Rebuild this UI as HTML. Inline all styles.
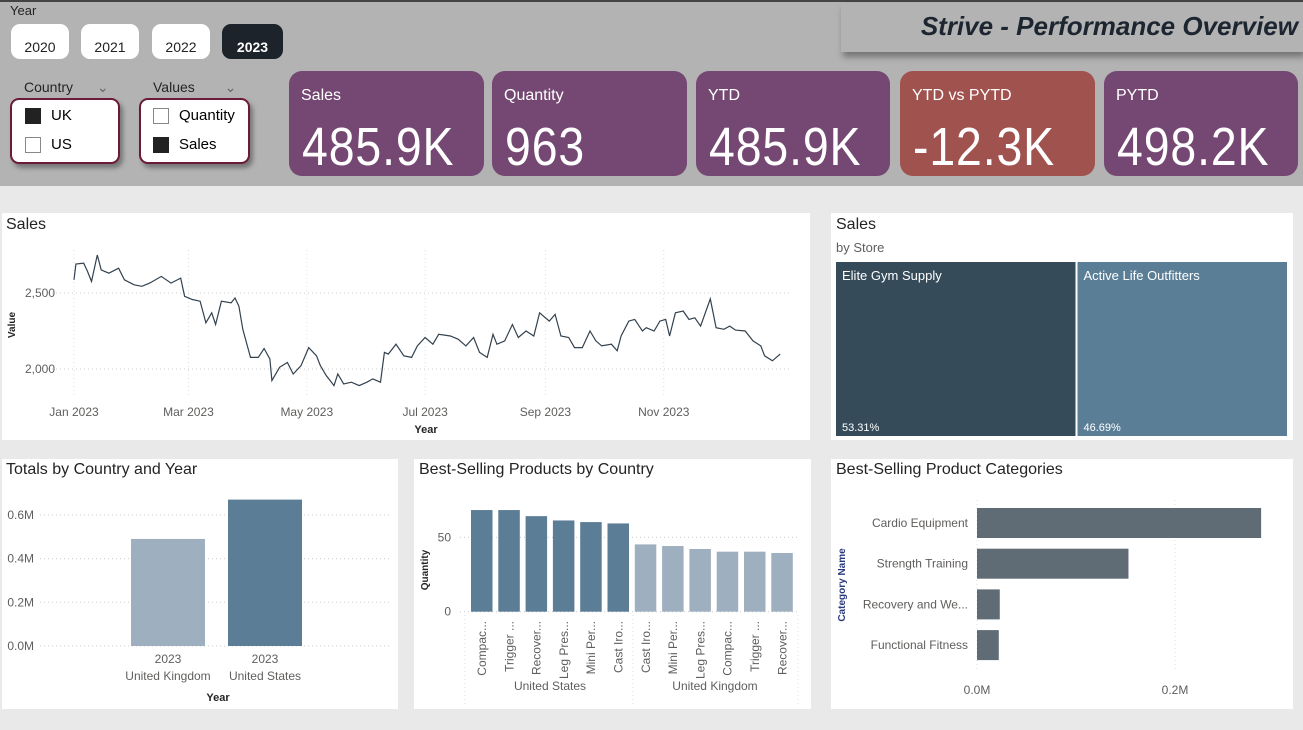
<!DOCTYPE html>
<html><head><meta charset="utf-8">
<style>
body{margin:0;width:1303px;height:730px;overflow:hidden;background:#e9e9e9;font-family:"Liberation Sans",sans-serif;position:relative}
.abs{position:absolute}
.hdr{left:0;top:0;width:1303px;height:186px;background:#b3b3b3;border-top:2px solid #444;box-sizing:border-box}
.yb{top:24px;width:58px;height:35px;background:#fff;border-radius:9px;font-size:14px;text-align:center;line-height:46px;color:#222}
.slicer{background:#fff;border:2px solid #6b1a3a;border-radius:9px;box-shadow:3px 4px 5px rgba(0,0,0,.35)}
.card{top:71px;height:105px;background:#744872;border-radius:13px;color:#fff;overflow:hidden}
.card .t{position:absolute;left:12px;top:16px;font-size:16px}
.card .v{position:absolute;left:13px;top:46px;font-size:54px;line-height:60px;transform:scaleX(.86);transform-origin:left;letter-spacing:1px}
.panel{background:#fff}
.ptitle{font-size:16px;color:#252423}
.chk{display:inline-block;width:14px;height:14px;border:1px solid #888;vertical-align:middle;margin-right:10px}
</style></head><body>
<div class="abs hdr"></div>
<div class="abs" style="left:10px;top:3px;font-size:13px;color:#252423">Year</div>
<div class="abs yb" style="left:11px">2020</div>
<div class="abs yb" style="left:81px">2021</div>
<div class="abs yb" style="left:152px">2022</div>
<div class="abs yb" style="left:222px;width:61px;background:#1c232b;color:#fff;font-weight:bold">2023</div>
<div class="abs" style="left:841px;top:3px;width:462px;height:49px;background:#b3b3b3;box-shadow:2px 5px 6px rgba(0,0,0,.35)">
<div style="position:absolute;right:5px;top:8px;font-size:26px;font-weight:bold;font-style:italic;color:#1c2530">Strive - Performance Overview</div></div>

<div class="abs" style="left:24px;top:79px;font-size:14px;color:#252423">Country <span style="margin-left:20px;color:#666">&#8964;</span></div>
<div class="abs slicer" style="left:10px;top:98px;width:106px;height:62px">
<div style="position:absolute;left:13px;top:7px;font-size:15px"><span class="chk" style="background:#222;border-color:#222"></span>UK</div>
<div style="position:absolute;left:13px;top:36px;font-size:15px"><span class="chk"></span>US</div></div>
<div class="abs" style="left:153px;top:79px;font-size:14px;color:#252423">Values <span style="margin-left:26px;color:#666">&#8964;</span></div>
<div class="abs slicer" style="left:139px;top:98px;width:107px;height:62px">
<div style="position:absolute;left:12px;top:7px;font-size:15px"><span class="chk"></span>Quantity</div>
<div style="position:absolute;left:12px;top:36px;font-size:15px"><span class="chk" style="background:#222;border-color:#222"></span>Sales</div></div>

<div class="abs card" style="left:289px;width:195px"><div class="t">Sales</div><div class="v">485.9K</div></div>
<div class="abs card" style="left:492px;width:195px"><div class="t">Quantity</div><div class="v">963</div></div>
<div class="abs card" style="left:696px;width:194px"><div class="t">YTD</div><div class="v">485.9K</div></div>
<div class="abs card" style="left:900px;width:195px;background:#a0524f"><div class="t">YTD vs PYTD</div><div class="v">-12.3K</div></div>
<div class="abs card" style="left:1104px;width:194px"><div class="t">PYTD</div><div class="v">498.2K</div></div>

<div class="abs panel" style="left:2px;top:213px;width:808px;height:227px"><div class="ptitle" style="position:absolute;left:4px;top:3px">Sales</div></div>
<div class="abs panel" style="left:831px;top:213px;width:462px;height:227px"><div class="ptitle" style="position:absolute;left:5px;top:3px">Sales</div><div style="position:absolute;left:5px;top:27px;font-size:13px;color:#605e5c">by Store</div></div>
<div class="abs panel" style="left:2px;top:459px;width:396px;height:250px"><div class="ptitle" style="position:absolute;left:4px;top:2px">Totals by Country and Year</div></div>
<div class="abs panel" style="left:414px;top:459px;width:397px;height:250px"><div class="ptitle" style="position:absolute;left:5px;top:2px">Best-Selling Products by Country</div></div>
<div class="abs panel" style="left:831px;top:459px;width:462px;height:250px"><div class="ptitle" style="position:absolute;left:5px;top:2px">Best-Selling Product Categories</div></div>

<svg class="abs" style="left:0;top:0" width="1303" height="730" id="chart" font-family="Liberation Sans, sans-serif"></svg>
<script>
// Sales line data (day of year, value)
const lineDays=[0,1,5,7,9,12,14,18,23,26,31,35,39,45,50,55,57,61,65,68,71,73,76,81,83,85,87,91,95,98,101,102,106,110,113,117,121,125,127,130,134,136,139,143,147,151,154,158,160,162,166,170,174,177,181,185,188,194,198,202,206,209,213,216,218,222,226,229,233,237,240,245,248,251,255,258,262,266,269,272,277,280,282,286,289,293,295,299,302,305,307,310,314,317,320,323,328,331,335,338,341,346,350,354,356,360,364];
const lineValues=[2587,2691,2696,2641,2576,2750,2652,2630,2663,2587,2554,2544,2565,2609,2565,2598,2478,2457,2446,2304,2370,2293,2446,2435,2467,2413,2261,2076,2076,2135,2065,1924,2011,2043,1967,2022,2141,2087,2022,1957,1891,1967,1902,1913,1891,1913,1935,1913,2109,2098,2163,2087,2076,2152,2207,2163,2228,2217,2196,2152,2207,2109,2076,2228,2163,2185,2293,2207,2250,2217,2370,2315,2359,2217,2207,2141,2141,2250,2185,2152,2163,2120,2217,2315,2326,2250,2272,2250,2315,2326,2217,2370,2381,2326,2337,2282,2461,2272,2261,2282,2256,2250,2185,2152,2087,2054,2098];
const lineYTicks=[2000,2500];
const monthLabels=["Jan 2023","Mar 2023","May 2023","Jul 2023","Sep 2023","Nov 2023"];
const monthDays=[0,59,120,181,243,304];
// Store treemap
const stores=["Elite Gym Supply","Active Life Outfitters"];
const storeShares=[53.31,46.69];
// Totals
const countries=["United Kingdom","United States"];
const totals=[0.49,0.67];
const totalTicks=[0,0.2,0.4,0.6];
const totalTickLabels=["0.0M","0.2M","0.4M","0.6M"];
// Products
const productNames=["Compac...","Trigger ...","Recover...","Leg Pres...","Mini Per...","Cast Iro...","Cast Iro...","Mini Per...","Leg Pres...","Compac...","Trigger ...","Recover..."];
const productCountry=["US","US","US","US","US","US","UK","UK","UK","UK","UK","UK"];
const productQty=[68.4,68.4,64.3,61.4,60.3,59.4,45.3,44.2,42.2,40.4,40.4,39.5];
const qtyTicks=[0,50];
// Categories
const categories=["Cardio Equipment","Strength Training","Recovery and We...","Functional Fitness"];
const categorySales=[0.287,0.153,0.023,0.022];
const catTicks=[0,0.2];
const catTickLabels=["0.0M","0.2M"];

const svg=document.getElementById('chart');
const NS='http://www.w3.org/2000/svg';
function mk(tag,at,parent){const e=document.createElementNS(NS,tag);for(const k in at)e.setAttribute(k,at[k]);(parent||svg).appendChild(e);return e;}
function txt(s,at){const e=mk('text',at);e.textContent=s;return e;}

// ---- line chart
const lx=d=>74+d*1.94, ly=v=>369-(v-2000)*76/500;
lineYTicks.forEach(t=>{
 const g=mk('line',{x1:48,x2:790,y1:ly(t),y2:ly(t),stroke:'#ccc','stroke-dasharray':'1,3'});
 
 const l=txt(t.toLocaleString('en-US'),{x:55,y:ly(t)+4,'text-anchor':'end','font-size':12,fill:'#605e5c'});
 
});
monthDays.forEach((d,i)=>{
 const g=mk('line',{x1:lx(d),x2:lx(d),y1:250,y2:398,stroke:'#ddd','stroke-dasharray':'1,3'});
 
 const l=txt(monthLabels[i],{x:lx(d),y:416,'text-anchor':'middle','font-size':12,fill:'#605e5c'});
 
});
let pd=lineDays.map((d,i)=>(i?'L':'M')+lx(d).toFixed(1)+','+ly(lineValues[i]).toFixed(1)).join('');
const path=mk('path',{d:pd,fill:'none',stroke:'#33414e','stroke-width':1.2});

let t=txt('Value',{transform:'translate(15,325) rotate(-90)','text-anchor':'middle','font-size':10,'font-weight':'bold',fill:'#252423'});

t=txt('Year',{x:426,y:433,'text-anchor':'middle','font-size':11,'font-weight':'bold',fill:'#252423'});


// ---- treemap
const tmX=836,tmW=453,tmY=262,tmH=174,tmColors=['#364b5a','#5b7e97'];
let cx=tmX;const tot=storeShares.reduce((a,b)=>a+b,0);
storeShares.forEach((s,i)=>{
 const w=tmW*s/tot;
 const r=mk('rect',{x:cx,y:tmY,width:w-2,height:tmH,fill:tmColors[i]});
 
 const n=txt(stores[i],{x:cx+6,y:tmY+18,'font-size':13,fill:'#fff'});
 
 const p=txt(s.toFixed(2)+'%',{x:cx+6,y:tmY+169,'font-size':11,fill:'#fff'});
 
 cx+=w;
});

// ---- totals bar chart
const ty=v=>646-v*218.5;
totalTicks.forEach((v,i)=>{
 const g=mk('line',{x1:40,x2:390,y1:ty(v),y2:ty(v),stroke:'#ccc','stroke-dasharray':'1,3'});
 
 const l=txt(totalTickLabels[i],{x:34,y:ty(v)+4,'text-anchor':'end','font-size':12,fill:'#605e5c'});
 
});
const totColors=['#9eb0bf','#5b7d96'];
totals.forEach((v,i)=>{
 const x=131+i*97;
 const b=mk('rect',{x:x,y:ty(v),width:74,height:646-ty(v),fill:totColors[i]});
 
 const a=txt('2023',{x:x+37,y:663,'text-anchor':'middle','font-size':12,fill:'#605e5c'});
 
 const c=txt(countries[i],{x:x+37,y:680,'text-anchor':'middle','font-size':12,fill:'#605e5c'});
 
});
t=txt('Year',{x:218,y:701,'text-anchor':'middle','font-size':11,'font-weight':'bold',fill:'#252423'});


// ---- products bar chart
const py=v=>611.7-v*74.3/50;
qtyTicks.forEach(v=>{
 const g=mk('line',{x1:460,x2:798,y1:py(v),y2:py(v),stroke:'#ccc','stroke-dasharray':'1,3'});
 
 const l=txt(String(v),{x:451,y:py(v)+4,'text-anchor':'end','font-size':12,fill:'#605e5c'});
 
});
productQty.forEach((v,i)=>{
 const x=471+i*27.3;
 const b=mk('rect',{x:x,y:py(v),width:21.5,height:611.7-py(v),fill:productCountry[i]==='US'?'#5b7d96':'#9eb0bf'});
 
 const l=txt(productNames[i],{transform:`translate(${x+15},621) rotate(-90)`,'text-anchor':'end','font-size':12,fill:'#605e5c'});
 
});
[465,633,798].forEach(x=>{
 const g=mk('line',{x1:x,x2:x,y1:615,y2:705,stroke:'#ddd','stroke-dasharray':'1,3'});
 
});
t=txt('United States',{x:550,y:690,'text-anchor':'middle','font-size':12,fill:'#605e5c'});

t=txt('United Kingdom',{x:715,y:690,'text-anchor':'middle','font-size':12,fill:'#605e5c'});

t=txt('Quantity',{transform:'translate(428,570) rotate(-90)','text-anchor':'middle','font-size':10,'font-weight':'bold',fill:'#252423'});


// ---- categories bar chart
const cxs=v=>977+v*990;
catTicks.forEach((v,i)=>{
 const g=mk('line',{x1:cxs(v),x2:cxs(v),y1:500,y2:670,stroke:'#ddd','stroke-dasharray':'1,3'});
 
 const l=txt(catTickLabels[i],{x:cxs(v),y:694,'text-anchor':'middle','font-size':12,fill:'#605e5c'});
 
});
categorySales.forEach((v,i)=>{
 const y=508+i*40.7;
 const b=mk('rect',{x:977,y:y,width:cxs(v)-977,height:30,fill:'#5f6b75'});
 
 const l=txt(categories[i],{x:968,y:y+19,'text-anchor':'end','font-size':12,fill:'#605e5c'});
 
});
t=txt('Category Name',{transform:'translate(845,585) rotate(-90)','text-anchor':'middle','font-size':10,'font-weight':'bold',fill:'#2b3a7c'});

</script>
</body></html>
